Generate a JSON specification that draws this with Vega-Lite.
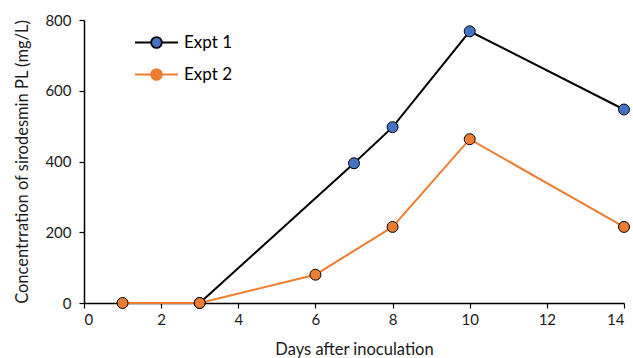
{
  "$schema": "https://vega.github.io/schema/vega-lite/v6.json",
  "width": 540,
  "height": 283,
  "autosize": {"type": "none"},
  "padding": {"left": 84, "top": 20, "right": 9, "bottom": 55},
  "background": "white",
  "config": {
    "font": "Lato",
    "view": {"stroke": null},
    "axis": {
      "grid": false,
      "domainColor": "#000000",
      "domainWidth": 1.5,
      "tickColor": "#000000",
      "tickWidth": 1.2,
      "tickSize": 5,
      "labelFont": "Lato",
      "labelFontSize": 15,
      "labelColor": "#1a1a1a",
      "titleFont": "Lato",
      "titleFontSize": 16.5,
      "titleFontWeight": "normal",
      "titleColor": "#1a1a1a"
    }
  },
  "data": {
    "values": [
      {"series": "Expt 1", "day": 3, "conc": 0},
      {"series": "Expt 1", "day": 7, "conc": 395},
      {"series": "Expt 1", "day": 8, "conc": 497},
      {"series": "Expt 1", "day": 10, "conc": 768},
      {"series": "Expt 1", "day": 14, "conc": 547},
      {"series": "Expt 2", "day": 1, "conc": 0},
      {"series": "Expt 2", "day": 3, "conc": 0},
      {"series": "Expt 2", "day": 6, "conc": 80},
      {"series": "Expt 2", "day": 8, "conc": 215},
      {"series": "Expt 2", "day": 10, "conc": 463},
      {"series": "Expt 2", "day": 14, "conc": 215}
    ]
  },
  "encoding": {
    "x": {
      "field": "day",
      "type": "quantitative",
      "scale": {"domain": [0, 14], "nice": false},
      "axis": {"values": [0, 2, 4, 6, 8, 10, 12, 14], "title": "Days after inoculation", "titlePadding": 14, "labelPadding": 4}
    },
    "y": {
      "field": "conc",
      "type": "quantitative",
      "scale": {"domain": [0, 800], "nice": false},
      "axis": {"values": [0, 200, 400, 600, 800], "title": "Concentrration of sirodesmin PL (mg/L)", "titlePadding": 14, "labelPadding": 8}
    }
  },
  "layer": [
    {
      "mark": {"type": "line", "strokeWidth": 2},
      "encoding": {
        "stroke": {
          "field": "series",
          "type": "nominal",
          "scale": {"domain": ["Expt 1", "Expt 2"], "range": ["#000000", "#ED7D31"]},
          "legend": {
            "title": null,
            "orient": "none",
            "legendX": 50,
            "legendY": 0,
            "symbolType": "M-1,0L-0.25,0M0.25,0L1,0M0.25,0A0.25,0.25,0,1,1,-0.25,0A0.25,0.25,0,1,1,0.25,0Z",
            "symbolSize": 1849,
            "symbolStrokeWidth": 1.8,
            "labelFontSize": 17,
            "labelColor": "#000000",
            "labelOffset": 5,
            "rowPadding": -17,
            "encode": {
              "symbols": {
                "update": {
                  "fill": {"signal": "datum.value === 'Expt 1' ? '#4472C4' : '#ED7D31'"},
                  "fillOpacity": {"value": 1}
                }
              }
            }
          }
        }
      }
    },
    {
      "mark": {"type": "point", "filled": true, "size": 120, "stroke": "#000000", "strokeWidth": 1, "opacity": 1},
      "encoding": {
        "fill": {
          "field": "series",
          "type": "nominal",
          "scale": {"domain": ["Expt 1", "Expt 2"], "range": ["#4472C4", "#ED7D31"]},
          "legend": null
        }
      }
    }
  ]
}
